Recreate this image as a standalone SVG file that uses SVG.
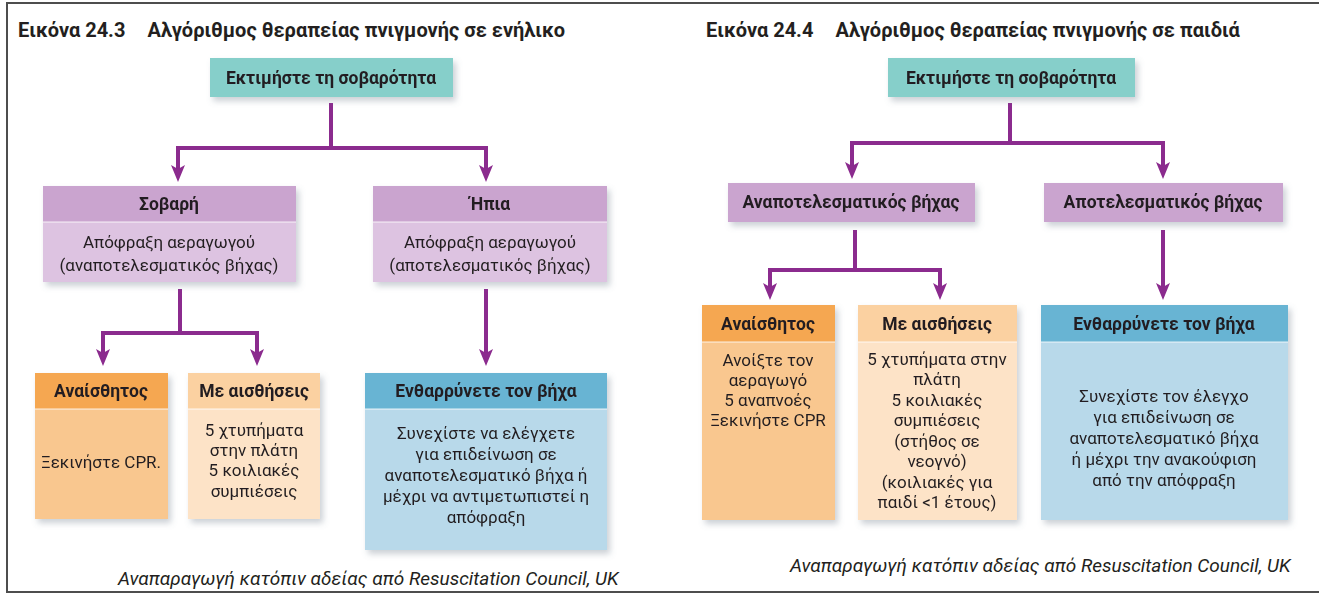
<svg xmlns="http://www.w3.org/2000/svg" width="1319" height="594" viewBox="0 0 1319 594">
<style>
text{font-family:Roboto,"Noto Sans","DejaVu Sans",sans-serif;fill:#231f20;text-anchor:middle}
.title{font-size:20px;font-weight:bold;text-anchor:start}
.h{font-size:17.5px;font-weight:bold}
.b{font-size:17px}
.foot{font-size:19px;font-style:italic;text-anchor:start}
.conn{fill:none;stroke:#8b2b8e;stroke-width:4;stroke-linejoin:miter}
.arr{marker-end:url(#ah)}
.teal{fill:#86cfca}
.ph{fill:#caa4cf}
.pb{fill:#ddc3e1}
.oh{fill:#f5a751}
.ob{fill:#f9c78f}
.lh{fill:#fbd1a1}
.lb{fill:#fde3c7}
.bh{fill:#67b4d3}
.bb{fill:#b8d9ea}
.sep{stroke:#ffffff;stroke-opacity:0.55;stroke-width:1.5}
</style>
<defs>
<marker id="ah" viewBox="0 0 17 14" refX="4" refY="7" markerWidth="17" markerHeight="14" markerUnits="userSpaceOnUse" orient="auto">
<path d="M0,0 L17,7 L0,14 L4,7 z" fill="#8b2b8e"/>
</marker>
<filter id="sh" x="-10%" y="-10%" width="130%" height="140%">
<feDropShadow dx="3" dy="4" stdDeviation="3" flood-color="#6a7a88" flood-opacity="0.35"/>
</filter>
</defs>
<rect width="1319" height="594" fill="#ffffff"/>
<g id="frame" fill="none" stroke="#4d4d4d" stroke-width="2">
<path d="M1319,3 L7,3 L7,592 L1319,592"/>
</g>
<text class="title" x="18" y="37">Εικόνα 24.3<tspan dx="22">Αλγόριθμος θεραπείας πνιγμονής σε ενήλικο</tspan></text>
<text class="title" x="706" y="37">Εικόνα 24.4<tspan dx="22">Αλγόριθμος θεραπείας πνιγμονής σε παιδιά</tspan></text>
<g id="connectors">
<path class="conn" d="M331,103 V148"/>
<path class="conn arr" d="M178,148 H486 V169"/>
<path class="conn arr" d="M331,148 H178 V169"/>
<path class="conn" d="M180,289 V333"/>
<path class="conn arr" d="M180,333 H103 V353"/>
<path class="conn arr" d="M180,333 H257 V353"/>
<path class="conn arr" d="M486,289 V353"/>
<path class="conn" d="M1010,103 V143"/>
<path class="conn arr" d="M1010,143 H852 V166"/>
<path class="conn arr" d="M1010,143 H1163 V166"/>
<path class="conn" d="M855,230 V270"/>
<path class="conn arr" d="M855,270 H770 V287"/>
<path class="conn arr" d="M855,270 H940 V287"/>
<path class="conn arr" d="M1163,230 V287"/>
</g>
<g id="l-assess" filter="url(#sh)">
<rect class="teal" x="210" y="58" width="243" height="39"/>
<text class="h" x="331" y="84">Εκτιμήστε τη σοβαρότητα</text>
</g>
<g id="l-severe" filter="url(#sh)">
<rect class="ph" x="43" y="186" width="253" height="36"/>
<rect class="pb" x="43" y="222" width="253" height="60"/>
<line class="sep" x1="43" y1="222" x2="296" y2="222"/>
<text class="h" x="169" y="210">Σοβαρή</text>
<text class="b" x="169" y="248">Απόφραξη αεραγωγού</text>
<text class="b" x="169" y="271">(αναποτελεσματικός βήχας)</text>
</g>
<g id="l-mild" filter="url(#sh)">
<rect class="ph" x="373" y="186" width="234" height="36"/>
<rect class="pb" x="373" y="222" width="234" height="60"/>
<line class="sep" x1="373" y1="222" x2="607" y2="222"/>
<text class="h" x="490" y="210">Ήπια</text>
<text class="b" x="490" y="248">Απόφραξη αεραγωγού</text>
<text class="b" x="490" y="271">(αποτελεσματικός βήχας)</text>
</g>
<g id="l-unconscious" filter="url(#sh)">
<rect class="oh" x="35" y="373" width="133" height="36"/>
<rect class="ob" x="35" y="409" width="133" height="110"/>
<line class="sep" x1="35" y1="409" x2="168" y2="409"/>
<text class="h" x="101" y="397">Αναίσθητος</text>
<text class="b" x="101" y="468">Ξεκινήστε CPR.</text>
</g>
<g id="l-conscious" filter="url(#sh)">
<rect class="lh" x="188" y="373" width="132" height="36"/>
<rect class="lb" x="188" y="409" width="132" height="110"/>
<line class="sep" x1="188" y1="409" x2="320" y2="409"/>
<text class="h" x="254" y="397">Με αισθήσεις</text>
<text class="b" x="254" y="436">5 χτυπήματα</text>
<text class="b" x="254" y="456">στην πλάτη</text>
<text class="b" x="254" y="476">5 κοιλιακές</text>
<text class="b" x="254" y="497">συμπιέσεις</text>
</g>
<g id="l-encourage" filter="url(#sh)">
<rect class="bh" x="365" y="373" width="242" height="36"/>
<rect class="bb" x="365" y="409" width="242" height="141"/>
<line class="sep" x1="365" y1="409" x2="607" y2="409"/>
<text class="h" x="486" y="397">Ενθαρρύνετε τον βήχα</text>
<text class="b" x="486" y="439">Συνεχίστε να ελέγχετε</text>
<text class="b" x="486" y="460">για επιδείνωση σε</text>
<text class="b" x="486" y="481">αναποτελεσματικό βήχα ή</text>
<text class="b" x="486" y="502">μέχρι να αντιμετωπιστεί η</text>
<text class="b" x="486" y="523">απόφραξη</text>
</g>
<text class="foot" x="118" y="585">Αναπαραγωγή κατόπιν αδείας από Resuscitation Council, UK</text>
<g id="r-assess" filter="url(#sh)">
<rect class="teal" x="888" y="58" width="247" height="39"/>
<text class="h" x="1011" y="84">Εκτιμήστε τη σοβαρότητα</text>
</g>
<g id="r-ineffective" filter="url(#sh)">
<rect class="ph" x="728" y="183" width="247" height="39"/>
<text class="h" x="851" y="208">Αναποτελεσματικός βήχας</text>
</g>
<g id="r-effective" filter="url(#sh)">
<rect class="ph" x="1044" y="183" width="239" height="39"/>
<text class="h" x="1163" y="208">Αποτελεσματικός βήχας</text>
</g>
<g id="r-unconscious" filter="url(#sh)">
<rect class="oh" x="702" y="305" width="133" height="37"/>
<rect class="ob" x="702" y="342" width="133" height="178"/>
<line class="sep" x1="702" y1="342" x2="835" y2="342"/>
<text class="h" x="768" y="330">Αναίσθητος</text>
<text class="b" x="768" y="366">Ανοίξτε τον</text>
<text class="b" x="768" y="386">αεραγωγό</text>
<text class="b" x="768" y="406">5 αναπνοές</text>
<text class="b" x="768" y="426">Ξεκινήστε CPR</text>
</g>
<g id="r-conscious" filter="url(#sh)">
<rect class="lh" x="858" y="305" width="159" height="37"/>
<rect class="lb" x="858" y="342" width="159" height="178"/>
<line class="sep" x1="858" y1="342" x2="1017" y2="342"/>
<text class="h" x="937" y="330">Με αισθήσεις</text>
<text class="b" x="937" y="365">5 χτυπήματα στην</text>
<text class="b" x="937" y="385">πλάτη</text>
<text class="b" x="937" y="406">5 κοιλιακές</text>
<text class="b" x="937" y="426">συμπιέσεις</text>
<text class="b" x="937" y="447">(στήθος σε</text>
<text class="b" x="937" y="467">νεογνό)</text>
<text class="b" x="937" y="488">(κοιλιακές για</text>
<text class="b" x="937" y="508">παιδί &lt;1 έτους)</text>
</g>
<g id="r-encourage" filter="url(#sh)">
<rect class="bh" x="1041" y="305" width="247" height="37"/>
<rect class="bb" x="1041" y="342" width="247" height="178"/>
<line class="sep" x1="1041" y1="342" x2="1288" y2="342"/>
<text class="h" x="1164" y="330">Ενθαρρύνετε τον βήχα</text>
<text class="b" x="1164" y="402">Συνεχίστε τον έλεγχο</text>
<text class="b" x="1164" y="423">για επιδείνωση σε</text>
<text class="b" x="1164" y="444">αναποτελεσματικό βήχα</text>
<text class="b" x="1164" y="465">ή μέχρι την ανακούφιση</text>
<text class="b" x="1164" y="486">από την απόφραξη</text>
</g>
<text class="foot" x="790" y="572">Αναπαραγωγή κατόπιν αδείας από Resuscitation Council, UK</text>
</svg>
